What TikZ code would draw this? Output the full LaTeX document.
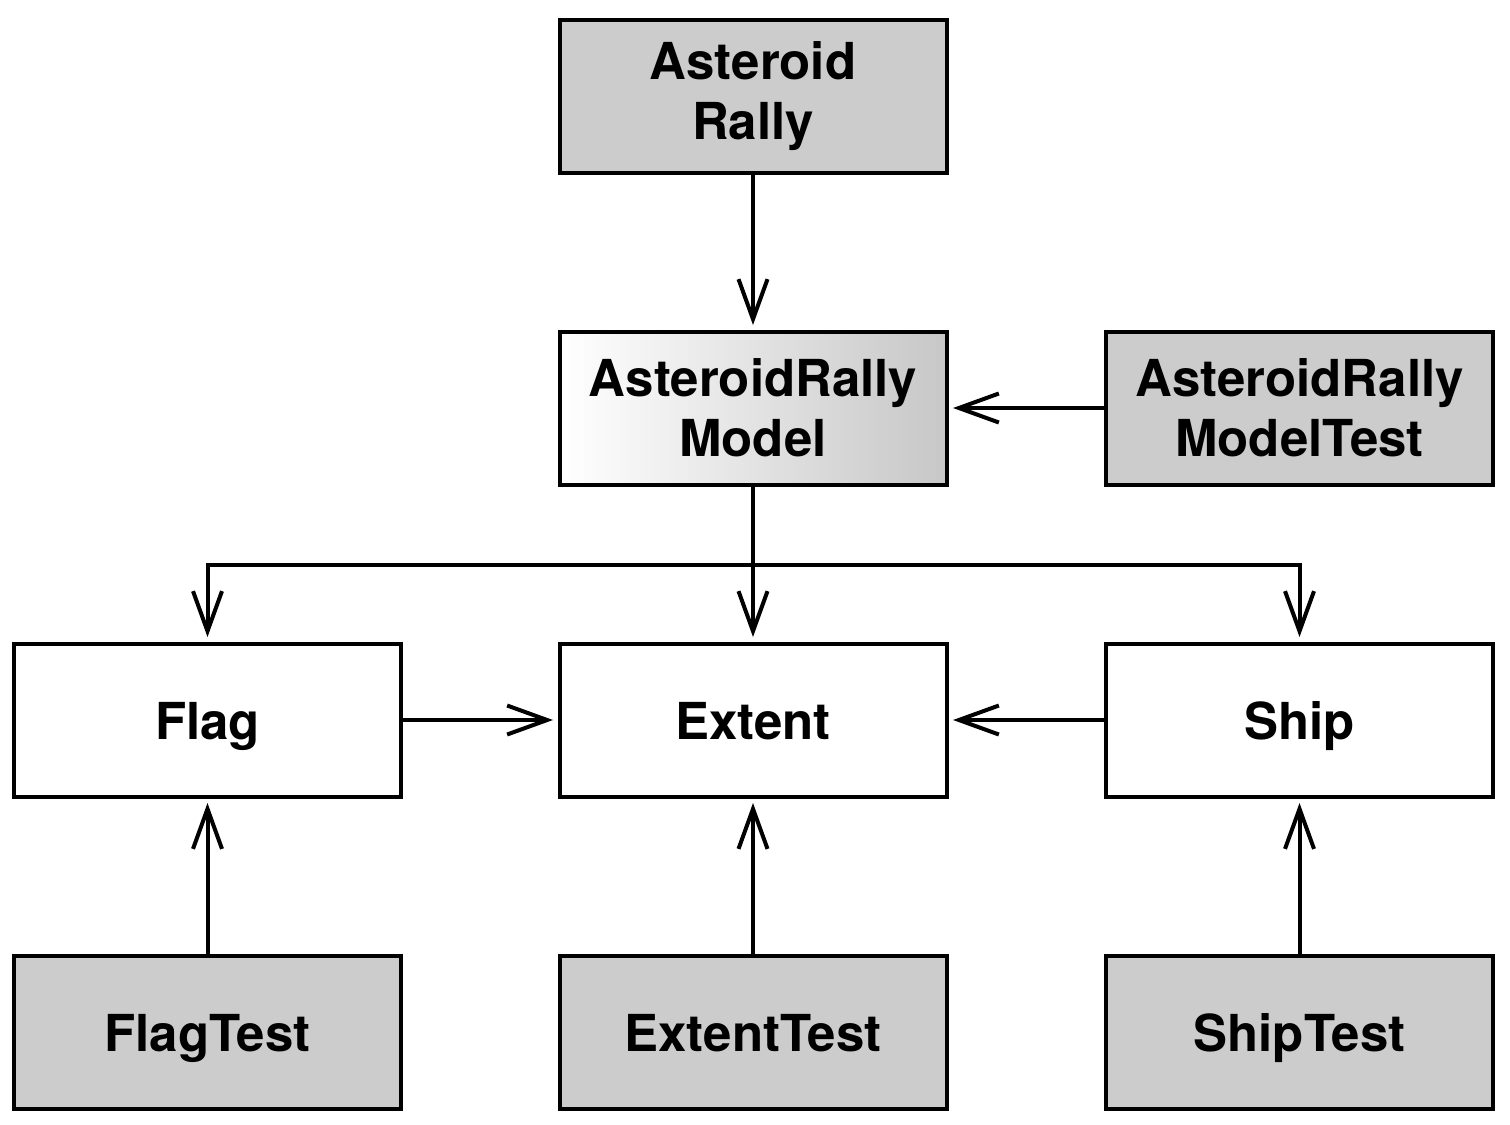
\documentclass[tikz,border=0pt]{standalone}
\usepackage{fontspec}
\setmainfont{TeX Gyre Heros}
\usepackage{tikz}
\usetikzlibrary{arrows.meta}

\tikzset{
  box/.style={draw, line width=0.08cm, minimum width=7.74cm, minimum height=3.06cm,
    inner sep=0pt, align=center, font=\fontsize{29}{34}\selectfont\bfseries},
  oneline/.style={text height=0.76cm, text depth=0pt},
  testbox/.style={box, fill=black!20},
  modelbox/.style={box, left color=white, right color=black!22},
  link/.style={line width=0.08cm, ->, shorten >=0.09cm}
}

\begin{document}
\begin{tikzpicture}[>={Straight Barb[length=0.8cm,width=0.58cm,line width=0.08cm]}]
		%\draw [help lines] (0,0) grid (30,-22);
		\useasboundingbox (0,0) rectangle (30.2,-22.48);
		\node [testbox] (rally) at (15.06,-1.92) {Asteroid\\Rally};
		\node [modelbox] (model) at (15.06,-8.16) {AsteroidRally\\Model};
		\node [testbox] (modeltest) at (25.99,-8.16) {AsteroidRally\\ModelTest};
		\node [box, oneline] (flag) at (4.15,-14.4) {Flag};
		\node [box, oneline] (extent) at (15.06,-14.4) {Extent};
		\node [box, oneline] (ship) at (25.99,-14.4) {Ship};
		\node [testbox, oneline] (flagtest) at (4.15,-20.64) {FlagTest};
		\node [testbox, oneline] (extenttest) at (15.06,-20.64) {ExtentTest};
		\node [testbox, oneline] (shiptest) at (25.99,-20.64) {ShipTest};
		\draw [link] (rally) -- (model);
		\draw [link] (modeltest) -- (model);
		\draw [link] (model) -- (extent);
		\draw [link] (model.south) -- ++(0,-1.56) -| (flag.north);
		\draw [link] (model.south) -- ++(0,-1.56) -| (ship.north);
		\draw [link] (flag) -- (extent);
		\draw [link] (ship) -- (extent);
		\draw [link] (flagtest) -- (flag);
		\draw [link] (extenttest) -- (extent);
		\draw [link] (shiptest) -- (ship);
	\end{tikzpicture}
\end{document}
